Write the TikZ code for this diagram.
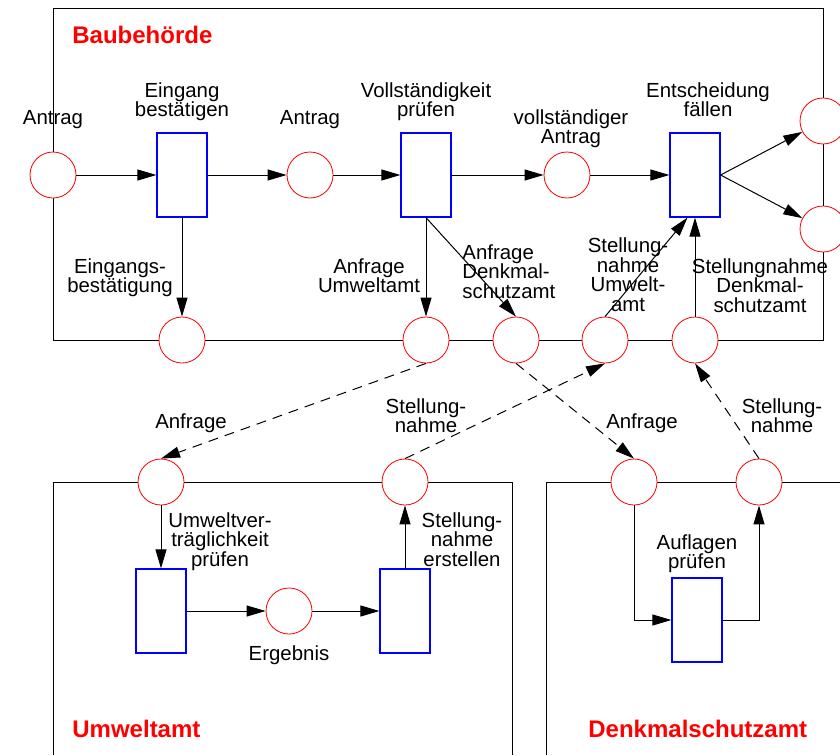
\documentclass[tikz,border=0pt]{standalone}
\usepackage{fontspec}
\setmainfont{Liberation Sans}
\usetikzlibrary{arrows.meta}

\begin{document}
\begin{tikzpicture}[x=0.5pt,y=-0.5pt,
		place/.style={circle,draw=red,line width=0.4pt,fill=white,minimum size=23pt,inner sep=0pt},
		trans/.style={rectangle,draw=blue,line width=0.6pt,fill=white,minimum width=25pt,minimum height=42pt,inner sep=0pt},
		lbl/.style={align=center,anchor=base,inner sep=0pt,font=\fontsize{10.2}{9.75}\selectfont},
		title/.style={anchor=base west,inner sep=0pt,text=red,font=\fontsize{12}{14}\selectfont\bfseries},
		flow/.style={-{Triangle[length=9.5pt,width=5.5pt]},line width=0.5pt},
		msg/.style={flow,dash pattern=on 5pt off 3.5pt}]
	\useasboundingbox (0,0) rectangle (840,755);
	\draw[line width=0.5pt] (53,8) rectangle (823,340);
	\draw[line width=0.5pt] (53,755) -- (53,482) -- (512,482) -- (512,755);
	\draw[line width=0.5pt] (546,755) -- (546,482) -- (840,482);

	\node[title] (bau) at (72,43){Baubehörde};
	\node[title] (umw) at (72,737){Umweltamt};
	\node[title] (dsa) at (588,737){Denkmalschutzamt};

						\node[place] (antrag) at (53,175){};
							\node[lbl] at (53,124){Antrag};
						\node[trans] (eingang) at (182,175){};
							\node[lbl] at (182,116.5){Eingang\\bestätigen};
						\node[place] (antragb) at (310,175){};
							\node[lbl] at (310,124){Antrag};
						\node[trans] (pruefen) at (426,175){};
							\node[lbl] at (426,116.5){Vollständigkeit\\prüfen};
						\node[place] (vollantrag) at (567,175){};
							\node[lbl] at (571,143.5){vollständiger\\Antrag};
						\node[trans] (entscheid) at (695,175){};
							\node[lbl] at (708,116.5){Entscheidung\\fällen};
						\node[place] (ergebA) at (823,121){};
						\node[place] (ergebB) at (823,229){};

						\node[place] (bestaet) at (182,340){};
							\node[lbl] at (120,292.5){Eingangs-\\bestätigung};
						\node[place] (anfrU) at (426,340){};
							\node[lbl] at (369,292.5){Anfrage\\Umweltamt};
						\node[place] (anfrD) at (516,340){};
							\node[lbl,align=left,anchor=base west] at (462,298){Anfrage\\Denkmal-\\schutzamt};
						\node[place] (stellU) at (605,340){};
							\node[lbl] at (628,311){Stellung-\\nahme\\Umwelt-\\amt};
						\node[place] (stellD) at (695,340){};
							\node[lbl] at (760,312){Stellungnahme\\Denkmal-\\schutzamt};

						\node[place] (uAnfrage) at (161,482){};
							\node[lbl] at (191,428){Anfrage};
						\node[trans] (uPruefen) at (161,611){};
							\node[lbl] at (220,566){Umweltver-\\träglichkeit\\prüfen};
						\node[place] (uErgebnis) at (289,611){};
							\node[lbl] at (289,660){Ergebnis};
						\node[trans] (uErstellen) at (405,611){};
							\node[lbl] at (462,566){Stellung-\\nahme\\erstellen};
						\node[place] (uStellung) at (405,482){};
							\node[lbl] at (426,432.5){Stellung-\\nahme};

						\node[place] (dAnfrage) at (634,482){};
							\node[lbl] at (642,428){Anfrage};
						\node[trans] (dPruefen) at (697,620){};
							\node[lbl] at (697,568.5){Auflagen\\prüfen};
						\node[place] (dStellung) at (759,482){};
							\node[lbl] at (782,432.5){Stellung-\\nahme};

	\draw[flow] (antrag) -- (eingang);
	\draw[flow] (eingang) -- (antragb);
	\draw[flow] (antragb) -- (pruefen);
	\draw[flow] (pruefen) -- (vollantrag);
	\draw[flow] (vollantrag) -- (entscheid);
	\draw[flow] (entscheid.east) -- (ergebA);
	\draw[flow] (entscheid.east) -- (ergebB);
	\draw[flow] (eingang.south) -- (bestaet.north);
	\draw[flow] (pruefen.south) -- (anfrU.north);
	\draw[flow] (pruefen.south) -- (anfrD.north);
	\draw[flow] (stellU.north) -- (entscheid.260);
	\draw[flow] (stellD.north) -- (entscheid.south);

	\draw[flow] (uAnfrage) -- (uPruefen);
	\draw[flow] (uPruefen) -- (uErgebnis);
	\draw[flow] (uErgebnis) -- (uErstellen);
	\draw[flow] (uErstellen) -- (uStellung);
	\draw[flow] (dAnfrage.south) |- (dPruefen.west);
	\draw[flow] (dPruefen.east) -| (dStellung.south);

	\draw[msg] (anfrU.south) -- (uAnfrage.north);
	\draw[msg] (uStellung.north) -- (stellU.south);
	\draw[msg] (anfrD.south) -- (dAnfrage.north);
	\draw[msg] (dStellung.north) -- (stellD.south);
\end{tikzpicture}
\end{document}
